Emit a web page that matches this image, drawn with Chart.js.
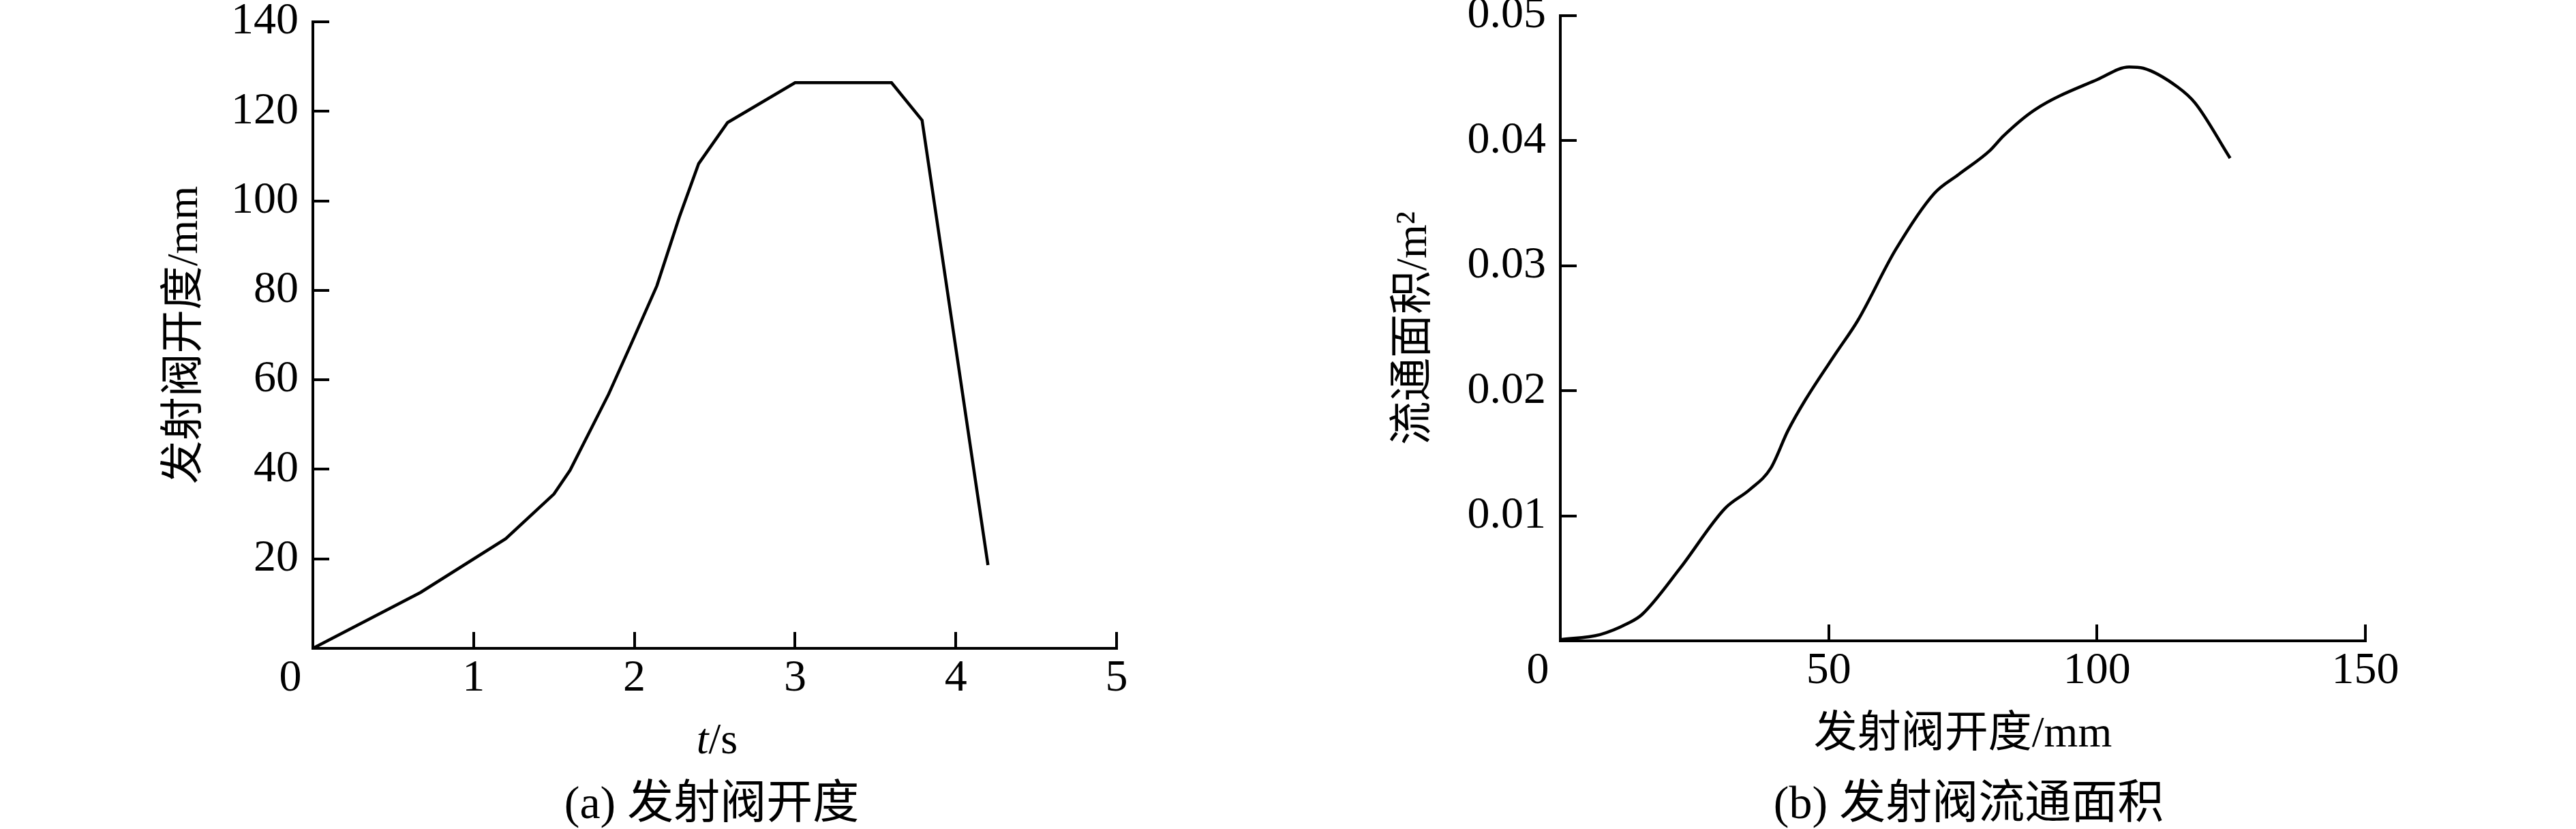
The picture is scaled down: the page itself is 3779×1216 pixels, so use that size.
<!DOCTYPE html>
<html>
<head>
<meta charset="utf-8">
<script src="https://cdn.jsdelivr.net/npm/chart.js@4.4.1/dist/chart.umd.min.js"></script>
<style>
  body { margin: 0; background: #fff; }
  #wrap { position: relative; width: 3779px; height: 1216px; overflow: hidden; background: #fff; }
  canvas { position: absolute; top: 0; }
  .txt { position: absolute; font-family: "Liberation Serif", "Noto Sans CJK SC", serif; color: #000; white-space: nowrap; transform: translateX(-50%); }
  .caption { font-size: 68px; line-height: 68px; top: 1143px; }
</style>
</head>
<body>
<div id="wrap">
  <canvas id="openChart" width="1890" height="1216" style="left:0"></canvas>
  <canvas id="areaChart" width="1889" height="1216" style="left:1890px"></canvas>
  <div class="txt" style="left:1052px; top:1052px; font-size:64px; line-height:64px"><i>t</i>/s</div>
  <div class="txt caption" style="left:1044px">(a) 发射阀开度</div>
  <div class="txt caption" style="left:2888px">(b) 发射阀流通面积</div>
</div>
<script>
// (a) valve opening vs time
const timeS = [0, 0.67, 1.2, 1.5, 1.6, 1.84, 1.98, 2.14, 2.28, 2.4, 2.58, 3.0, 3.6, 3.79, 4.2];
const openingMm = [0, 12.5, 24.5, 34.5, 39.8, 56.8, 68, 81, 96.4, 108.3, 117.5, 126.4, 126.4, 118, 18.6];
const timeTicks = [0, 1, 2, 3, 4, 5];
const openingTicks = [0, 20, 40, 60, 80, 100, 120, 140];

// (b) flow area vs valve opening
const areaOpeningMm = [0, 7.4, 12.6, 15.2, 22.3, 30.7, 35.3, 39.2, 42.4, 45.7, 51.5, 55.4, 62.5, 69.7, 74.2, 80, 82.6, 88.5, 100.1, 106, 108.6, 115, 118.3, 124.8];
const flowAreaM2 = [0.0001, 0.0005, 0.0014, 0.0021, 0.0058, 0.0106, 0.0121, 0.0138, 0.0168, 0.0193, 0.0231, 0.0256, 0.0313, 0.0358, 0.0373, 0.0392, 0.0404, 0.0425, 0.0449, 0.0459, 0.0458, 0.0443, 0.043, 0.0386];
const areaXTicks = [0, 50, 100, 150];
const areaYTicks = [0, 0.01, 0.02, 0.03, 0.04, 0.05];

Chart.defaults.font.family = '"Liberation Serif", "Noto Sans CJK SC", serif';
Chart.defaults.color = '#000';

function toPoints(xs, ys) {
  return xs.map((x, i) => ({ x: x, y: ys[i] }));
}

// fixed scale sizes so the plot box lands where it should
function axis(tickValues, size, extra) {
  const horizontal = extra.position === 'bottom';
  return Object.assign({
    type: 'linear',
    min: tickValues[0],
    max: tickValues[tickValues.length - 1],
    afterBuildTicks: (scale) => { scale.ticks = tickValues.map((v) => ({ value: v })); },
    afterFit: (scale) => {
      if (horizontal) scale.height = size; else scale.width = size;
      scale.paddingTop = 0; scale.paddingBottom = 0;
      scale.paddingLeft = 0; scale.paddingRight = 0;
    },
    border: { display: true, color: '#000', width: 4 },
    grid: { drawOnChartArea: false, drawTicks: true, tickLength: -24, color: '#000', lineWidth: 4 },
  }, extra);
}

function makeChart(id, points, xAxis, yAxis, pad, smooth) {
  return new Chart(document.getElementById(id), {
    type: 'line',
    data: {
      datasets: [{
        data: points,
        borderColor: '#000',
        borderWidth: 4.5,
        pointRadius: 0,
        fill: false,
        tension: 0,
        cubicInterpolationMode: smooth ? 'monotone' : 'default',
      }],
    },
    options: {
      responsive: false,
      animation: false,
      devicePixelRatio: 1,
      layout: { autoPadding: false, padding: pad },
      plugins: { legend: { display: false }, tooltip: { enabled: false } },
      scales: { x: xAxis, y: yAxis },
    },
  });
}

const tickFont = { size: 66, family: '"Liberation Serif", serif' };
const titleFont = { size: 64, lineHeight: 1.2 };
const zeroX = (v) => (v === 0 ? '0\u2003' : String(v));

makeChart('openChart', toPoints(timeS, openingMm),
  axis(timeTicks, 265, {
    position: 'bottom',
    ticks: { font: tickFont, padding: 29, maxRotation: 0, autoSkip: false, callback: zeroX },
  }),
  axis(openingTicks, 459, {
    position: 'left',
    ticks: { font: tickFont, padding: 45, autoSkip: false, callback: (v) => (v === 0 ? '' : String(v)) },
    title: { display: true, text: '发射阀开度/mm', font: titleFont, padding: { top: 234, bottom: 0 } },
  }),
  { top: 32, right: 252, bottom: 0, left: 0 }, false);

makeChart('areaChart', toPoints(areaOpeningMm, flowAreaM2),
  axis(areaXTicks, 276, {
    position: 'bottom',
    ticks: { font: tickFont, padding: 29, maxRotation: 0, autoSkip: false, callback: zeroX },
    title: { display: true, text: '发射阀开度/mm', font: titleFont, padding: { top: 0, bottom: 99 } },
  }),
  axis(areaYTicks, 399, {
    position: 'left',
    ticks: { font: tickFont, padding: 45, autoSkip: false, callback: (v) => (v === 0 ? '' : v.toFixed(2)) },
    title: { display: true, text: '流通面积/m²', font: titleFont, padding: { top: 147, bottom: 0 } },
  }),
  { top: 23, right: 309, bottom: 0, left: 0 }, true);
</script>
</body>
</html>
